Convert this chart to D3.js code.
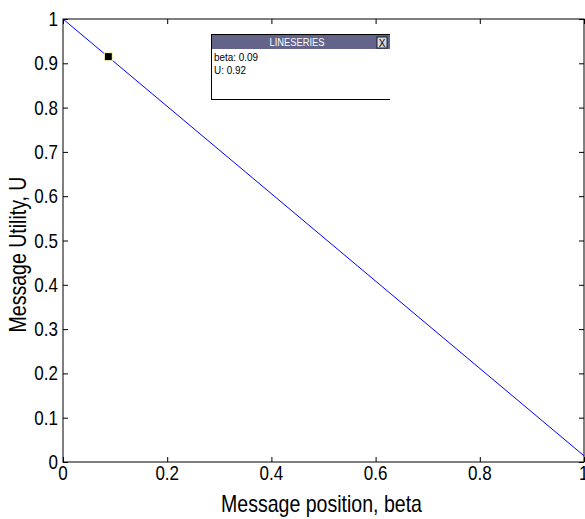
<!DOCTYPE html>
<html><head><meta charset="utf-8">
<script src="https://cdn.jsdelivr.net/npm/d3@7"></script>
<style>body{margin:0;background:#fff}svg{display:block}text{font-family:"Liberation Sans",Arial,sans-serif}</style>
</head><body>
<svg id="c" width="585" height="519"></svg>
<script>
const betaVals = [0, 1];
const uVals = [1, 0.014];
const xTicks = [0, 0.2, 0.4, 0.6, 0.8, 1];
const yTicks = [0, 0.1, 0.2, 0.3, 0.4, 0.5, 0.6, 0.7, 0.8, 0.9, 1];
const tipBeta = [0.087];
const tipU = [0.915];
const tipLines = ["beta: 0.09", "U: 0.92"];
const tipTitle = "LINESERIES";
const xLabel = "Message position, beta";
const yLabel = "Message Utility, U";

const svg = d3.select("#c");
const L = 63, R = 584, T = 19, B = 462;
const x = d3.scaleLinear().domain([0, 1]).range([L, R]);
const y = d3.scaleLinear().domain([0, 1]).range([B, T]);
const fmt = d => d === 0 ? "0" : d === 1 ? "1" : d3.format(".1f")(d);
const SX = 0.85;

// frame
svg.append("rect").attr("x", L).attr("y", T).attr("width", R - L).attr("height", B - T)
  .attr("fill", "none").attr("stroke", "#000").attr("stroke-width", 1);

// ticks (inward)
const tickG = (g, axis) => { g.call(axis); g.select(".domain").remove(); g.selectAll("text").remove(); g.selectAll("line").attr("stroke", "#000"); };
svg.append("g").attr("transform", `translate(0,${B})`).call(g => tickG(g, d3.axisBottom(x).tickValues(xTicks).tickSize(-5)));
svg.append("g").attr("transform", `translate(0,${T})`).call(g => tickG(g, d3.axisTop(x).tickValues(xTicks).tickSize(-5)));
svg.append("g").attr("transform", `translate(${L},0)`).call(g => tickG(g, d3.axisLeft(y).tickValues(yTicks).tickSize(-5)));
svg.append("g").attr("transform", `translate(${R},0)`).call(g => tickG(g, d3.axisRight(y).tickValues(yTicks).tickSize(-5)));

// tick labels (condensed font)
svg.selectAll(".xl").data(xTicks).enter().append("text")
  .attr("transform", d => `translate(${x(d)},480) scale(${SX},1)`)
  .attr("text-anchor", d => d === 1 ? "start" : "middle").attr("dx", d => d === 1 ? -6 : 0)
  .style("font-size", "20px").attr("fill", "#000").text(fmt);
svg.selectAll(".yl").data(yTicks).enter().append("text")
  .attr("transform", d => `translate(${L - 5},${y(d) + 7}) scale(${SX},1)`)
  .attr("text-anchor", "end")
  .style("font-size", "20px").attr("fill", "#000").text(fmt);

// line
const data = betaVals.map((b, i) => [b, uVals[i]]);
svg.append("path").datum(data)
  .attr("d", d3.line().x(d => x(d[0])).y(d => y(d[1])))
  .attr("fill", "none").attr("stroke", "#0000ff").attr("stroke-width", 1);

// datatip marker
svg.selectAll(".mk").data(tipBeta).enter().append("rect")
  .attr("x", d => x(d) - 4).attr("y", (d, i) => y(tipU[i]) - 4)
  .attr("width", 8).attr("height", 8).attr("fill", "#000")
  .attr("stroke", "#ffffc0").attr("stroke-width", 1);

// datatip box
const bx = 211, by = 34, bw = 179, bh = 65;
const tip = svg.append("g");
tip.append("rect").attr("x", bx).attr("y", by).attr("width", bw).attr("height", bh).attr("fill", "#fff");
tip.append("rect").attr("x", bx).attr("y", by).attr("width", bw).attr("height", 15).attr("fill", "#64648a");
tip.append("line").attr("x1", bx).attr("x2", bx + bw).attr("y1", by + 0.5).attr("y2", by + 0.5).attr("stroke", "#000");
tip.append("line").attr("x1", bx + 0.5).attr("x2", bx + 0.5).attr("y1", by).attr("y2", by + bh).attr("stroke", "#000");
tip.append("line").attr("x1", bx).attr("x2", bx + bw).attr("y1", by + bh + 0.5).attr("y2", by + bh + 0.5).attr("stroke", "#000");
tip.append("text").attr("transform", `translate(${bx + 86},${by + 12}) scale(0.85,1)`).attr("text-anchor", "middle")
  .attr("fill", "#fff").style("font-size", "11px").text(tipTitle);
tip.append("rect").attr("x", bx + 166).attr("y", by + 3).attr("width", 10).attr("height", 11)
  .attr("fill", "#d8d8e0").attr("stroke", "#000").attr("stroke-width", 0.8);
tip.append("text").attr("x", bx + 171).attr("y", by + 12.5).attr("text-anchor", "middle")
  .style("font-size", "10px").attr("fill", "#000").text("X");
tip.selectAll(".tl").data(tipLines).enter().append("text")
  .attr("transform", (d, i) => `translate(${bx + 3},${by + 27 + i * 13}) scale(0.9,1)`)
  .style("font-size", "11px").attr("fill", "#000").text(d => d);

// labels
svg.append("text").attr("transform", `translate(${(L + R) / 2 - 2},512) scale(${SX},1)`).attr("text-anchor", "middle")
  .style("font-size", "23px").attr("fill", "#000").text(xLabel);
svg.append("text").attr("transform", `translate(26,${(T + B) / 2 + 14}) rotate(-90) scale(${SX},1)`).attr("text-anchor", "middle")
  .style("font-size", "23px").attr("fill", "#000").text(yLabel);
</script>
</body></html>
